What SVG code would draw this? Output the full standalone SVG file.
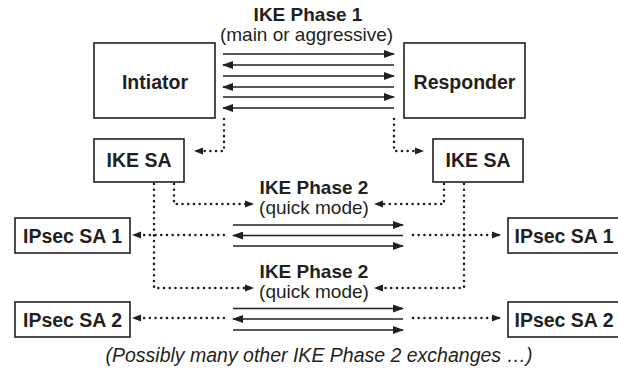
<svg xmlns="http://www.w3.org/2000/svg" width="618" height="371" viewBox="0 0 618 371">
<style>
  .box { fill: #fff; stroke: #231f20; stroke-width: 1.6; }
  .lbl { font-family: "Liberation Sans", Arial, sans-serif; font-size: 19.5px; font-weight: bold; fill: #231f20; text-anchor: middle; }
  .t { font-family: "Liberation Sans", Arial, sans-serif; font-size: 19px; fill: #231f20; text-anchor: middle; }
  .tb { font-weight: bold; }
  .ti { font-style: italic; font-size: 19.5px; }
  .solid { fill: none; stroke: #231f20; stroke-width: 1.7; }
  .dot { fill: none; stroke: #231f20; stroke-width: 2.5; stroke-dasharray: 0.1 5.6; stroke-linecap: round; }
  .sr { marker-end: url(#ah); }
  .dr { marker-end: url(#dh); }
</style>
<defs>
  <marker id="ah" markerUnits="userSpaceOnUse" markerWidth="11" markerHeight="8" refX="10" refY="4" orient="auto">
    <path d="M0,0 L11,4 L0,8 z" fill="#231f20"/>
  </marker>
  <marker id="dh" markerUnits="userSpaceOnUse" markerWidth="9" markerHeight="8" refX="8" refY="4" orient="auto">
    <path d="M0,0.5 L9,4 L0,7.5 z" fill="#231f20"/>
  </marker>
</defs>

<g id="labels">
  <text class="t tb" x="308" y="21">IKE Phase 1</text>
  <text class="t" x="306.5" y="41">(main or aggressive)</text>
  <text class="t tb" x="314" y="194">IKE Phase 2</text>
  <text class="t" x="314" y="214">(quick mode)</text>
  <text class="t tb" x="314" y="278">IKE Phase 2</text>
  <text class="t" x="314" y="298">(quick mode)</text>
  <text class="t ti" x="319" y="362">(Possibly many other IKE Phase 2 exchanges …)</text>
</g>

<g id="initiator">
  <rect class="box" x="94" y="43" width="121" height="75"/>
  <text class="lbl" x="155" y="89">Intiator</text>
</g>
<g id="responder">
  <rect class="box" x="404" y="43" width="121" height="75"/>
  <text class="lbl" x="464.5" y="89">Responder</text>
</g>
<g id="ike-sa-left">
  <rect class="box" x="94" y="139" width="90" height="43"/>
  <text class="lbl" x="139" y="167">IKE SA</text>
</g>
<g id="ike-sa-right">
  <rect class="box" x="433" y="139" width="90" height="43"/>
  <text class="lbl" x="478" y="167">IKE SA</text>
</g>
<g id="ipsec-sa1-left">
  <rect class="box" x="15" y="218" width="115" height="35"/>
  <text class="lbl" x="72.5" y="243">IPsec SA 1</text>
</g>
<g id="ipsec-sa2-left">
  <rect class="box" x="15" y="302" width="115" height="35"/>
  <text class="lbl" x="72.5" y="327">IPsec SA 2</text>
</g>
<g id="ipsec-sa1-right">
  <rect class="box" x="508" y="218" width="115" height="35"/>
  <text class="lbl" x="564" y="243">IPsec SA 1</text>
</g>
<g id="ipsec-sa2-right">
  <rect class="box" x="508" y="302" width="115" height="35"/>
  <text class="lbl" x="564" y="327">IPsec SA 2</text>
</g>

<g id="connectors">
  <!-- Phase 1 exchanges -->
  <path class="solid sr" d="M223,54 H394"/>
  <path class="solid sr" d="M394,65 H223"/>
  <path class="solid sr" d="M223,76 H394"/>
  <path class="solid sr" d="M394,87 H223"/>
  <path class="solid sr" d="M223,97 H394"/>
  <path class="solid sr" d="M394,108 H223"/>
  <!-- Phase 2 exchanges (first) -->
  <path class="solid sr" d="M233,225 H403"/>
  <path class="solid sr" d="M403,235.5 H233"/>
  <path class="solid sr" d="M233,246 H403"/>
  <!-- Phase 2 exchanges (second) -->
  <path class="solid sr" d="M233,308.5 H403"/>
  <path class="solid sr" d="M403,319 H233"/>
  <path class="solid sr" d="M233,330 H403"/>
  <!-- dotted -->
  <path class="dot dr" d="M224,119 V151 H195"/>
  <path class="dot dr" d="M394,119 V151 H423"/>
  <path class="dot dr" d="M174,184 V204 H253"/>
  <path class="dot dr" d="M444,184 V204 H375"/>
  <path class="dot dr" d="M154,184 V288 H253"/>
  <path class="dot dr" d="M464,184 V288 H375"/>
  <path class="dot dr" d="M224,235 H133"/>
  <path class="dot dr" d="M413,235 H500"/>
  <path class="dot dr" d="M224,318 H133"/>
  <path class="dot dr" d="M413,318 H500"/>
</g>
</svg>
